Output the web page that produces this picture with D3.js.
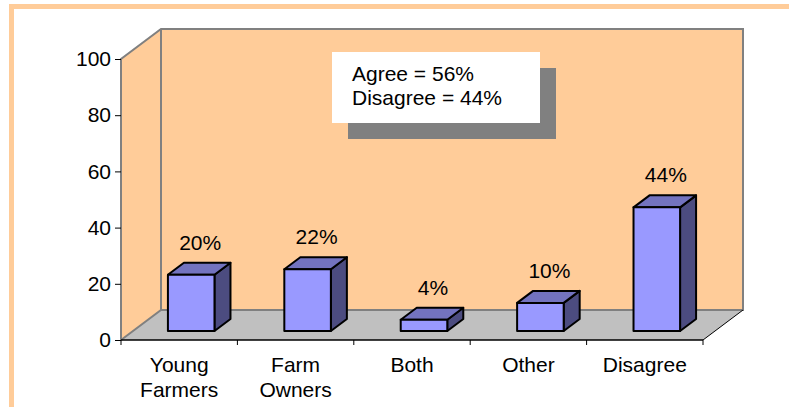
<!DOCTYPE html>
<html>
<head>
<meta charset="utf-8">
<script src="https://cdn.jsdelivr.net/npm/d3@7/dist/d3.min.js"></script>
<style>
  html, body { margin: 0; padding: 0; background: #ffffff; }
  svg { display: block; }
  text { font-family: "Liberation Sans", Arial, sans-serif; fill: #000; }
</style>
</head>
<body>
<svg id="chart" width="789" height="407"></svg>
<script>
const categories = ["Young Farmers", "Farm Owners", "Both", "Other", "Disagree"];
const values = [20, 22, 4, 10, 44];
const valueLabels = ["20%", "22%", "4%", "10%", "44%"];
const yTicks = [0, 20, 40, 60, 80, 100];
const boxLines = ["Agree = 56%", "Disagree = 44%"];

(function () {
const svg = d3.select("#chart");
const W = 789, H = 407;
const pLeft = 121, pRight = 703, pBottom = 340, pTop = 59;
const DX = 40, DY = -30;          // depth of the 3D box
const F0 = 0.3, F1 = 0.7;         // bars' depth span (fraction)
const fontSize = "21px";

// outer frame
svg.append("rect").attr("x", 9).attr("y", 4).attr("width", W - 9).attr("height", 5).attr("fill", "#FFCC99");
svg.append("rect").attr("x", 9).attr("y", 4).attr("width", 5).attr("height", H - 4).attr("fill", "#FFCC99");

const y = d3.scaleLinear().domain([0, 100]).range([pBottom, pTop]);
const xb = d3.scaleBand().domain(categories).range([pLeft, pRight]).padding(0);
const x = d3.scaleBand().domain(categories).range([pLeft, pRight]).paddingInner(0.6).paddingOuter(0.3);

const pt = (a) => a.map(p => p.join(",")).join(" ");

// back wall
svg.append("polygon")
  .attr("points", pt([[pLeft + DX, y(100) + DY], [pRight + DX, y(100) + DY], [pRight + DX, pBottom + DY], [pLeft + DX, pBottom + DY]]))
  .attr("fill", "#FFCC99");
// side wall
svg.append("polygon")
  .attr("points", pt([[pLeft, y(100)], [pLeft + DX, y(100) + DY], [pLeft + DX, pBottom + DY], [pLeft, pBottom]]))
  .attr("fill", "#FFCC99");
// floor
svg.append("polygon")
  .attr("points", pt([[pLeft, pBottom], [pRight, pBottom], [pRight + DX, pBottom + DY], [pLeft + DX, pBottom + DY]]))
  .attr("fill", "#C0C0C0");

const edge = "#808080";
const gEdges = svg.append("g").attr("fill", "none").attr("stroke", edge).attr("stroke-width", 2);
gEdges.append("polyline").attr("points", pt([[pLeft, pBottom], [pLeft, y(100)], [pLeft + DX, y(100) + DY], [pRight + DX, y(100) + DY], [pRight + DX, pBottom + DY], [pLeft + DX, pBottom + DY], [pLeft, pBottom]]));
gEdges.append("line").attr("x1", pLeft + DX).attr("y1", y(100) + DY).attr("x2", pLeft + DX).attr("y2", pBottom + DY);

// floor right diagonal
svg.append("line").attr("x1", pRight).attr("y1", pBottom).attr("x2", pRight + DX).attr("y2", pBottom + DY)
  .attr("stroke", "#000").attr("stroke-width", 1);

// y axis
const yAxis = d3.axisLeft(y).tickValues(yTicks).tickSize(6).tickPadding(4);
const gy = svg.append("g").attr("transform", `translate(${pLeft},0)`).call(yAxis);
gy.select(".domain").remove();
gy.attr("font-size", null).attr("font-family", null);
gy.selectAll(".tick line").attr("stroke", "#000");
gy.selectAll(".tick text").attr("font-size", fontSize).attr("fill", "#000");

// x axis line and ticks
svg.append("line").attr("x1", pLeft).attr("y1", pBottom).attr("x2", pRight).attr("y2", pBottom)
  .attr("stroke", "#000").attr("stroke-width", 1.5);
const boundaries = categories.map(c => xb(c)).concat([xb(categories[categories.length - 1]) + xb.bandwidth()]);
svg.append("g").selectAll("line").data(boundaries).join("line")
  .attr("x1", d => d).attr("x2", d => d).attr("y1", pBottom).attr("y2", pBottom + 5)
  .attr("stroke", "#000").attr("stroke-width", 1);

// category labels
const gc = svg.append("g");
categories.forEach(c => {
  const words = c.split(" ");
  const t = gc.append("text").attr("text-anchor", "middle").attr("font-size", fontSize);
  words.forEach((w, i) => {
    t.append("tspan").attr("x", xb(c) + xb.bandwidth() / 2).attr("y", 372 + i * 25).text(w);
  });
});

// bars
const ox0 = DX * F0, oy0 = DY * F0;
const bdx = DX * (F1 - F0), bdy = DY * (F1 - F0);
const gb = svg.append("g").attr("stroke", "#000").attr("stroke-width", 2).attr("stroke-linejoin", "round");
categories.forEach((c, i) => {
  const x0 = x(c) + ox0, x1 = x(c) + x.bandwidth() + ox0;
  const yb = y(0) + oy0, yt = y(values[i]) + oy0;
  gb.append("polygon").attr("points", pt([[x1, yt], [x1 + bdx, yt + bdy], [x1 + bdx, yb + bdy], [x1, yb]])).attr("fill", "#4C4C80");
  gb.append("polygon").attr("points", pt([[x0, yt], [x0 + bdx, yt + bdy], [x1 + bdx, yt + bdy], [x1, yt]])).attr("fill", "#7373BF");
  gb.append("polygon").attr("points", pt([[x0, yt], [x1, yt], [x1, yb], [x0, yb]])).attr("fill", "#9999FF");
  svg.append("text").attr("text-anchor", "middle").attr("font-size", fontSize)
    .attr("x", (x0 + x1) / 2 + 9).attr("y", yt + bdy - 13).text(valueLabels[i]);
});

// annotation box
svg.append("rect").attr("x", 348).attr("y", 68).attr("width", 208).attr("height", 71).attr("fill", "#808080");
svg.append("rect").attr("x", 332).attr("y", 52).attr("width", 208).attr("height", 71).attr("fill", "#ffffff");
boxLines.forEach((l, i) => {
  svg.append("text").attr("x", 352).attr("y", 81 + i * 24).attr("font-size", fontSize).text(l);
});
})();
</script>
</body>
</html>
